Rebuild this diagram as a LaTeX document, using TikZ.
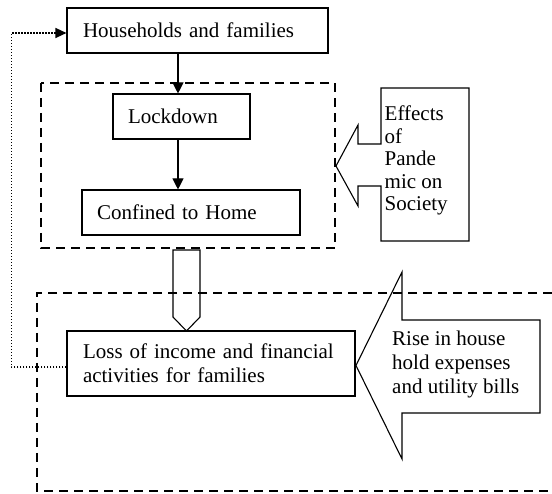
\documentclass[tikz,border=0pt]{standalone}
\usepackage{fontspec}
\setmainfont{Liberation Serif}
\usetikzlibrary{arrows.meta}
\begin{document}
\begin{tikzpicture}[x=1pt,y=-1pt,
  box/.style={draw, line width=1.1pt, inner ysep=0pt, align=left,
    font=\fontsize{21}{24}\selectfont},
  txt/.style={inner sep=0pt, align=left, anchor=north west},
  dbox/.style={line width=1.3pt, dash pattern=on 9pt off 6pt},
  outline/.style={line width=1.1pt, line join=miter},
  solidarrow/.style={line width=1.1pt, -{Triangle[length=11pt,width=11pt]}},
  dotarrow/.style={line width=1.3pt, dash pattern=on 1.3pt off 1.7pt,
    -{Triangle[length=11pt,width=10pt]}}]
\useasboundingbox (0,0) rectangle (552,494);

% dashed groups
\draw[dbox] (41,83) rectangle (335,248);
\draw[dbox] (552,293) -- (37,293) -- (37,491) -- (552,491);

% boxes
\node[box, minimum width=261pt, minimum height=45pt, text width=229pt, inner xsep=16pt]
  (house) at (197.5,30.5) {Households and families};
\node[box, minimum width=137pt, minimum height=45pt, text width=107pt, inner xsep=15pt]
  (lock) at (181.5,116.5) {Lockdown};
\node[box, minimum width=218pt, minimum height=45pt, text width=188pt, inner xsep=15pt]
  (home) at (191,212.5) {Confined to Home};
\node[box, minimum width=288pt, minimum height=65pt, text width=256pt, inner xsep=16pt]
  (loss) at (211,363.5) {Loss of income and financial\\activities for families};

% connectors
\draw[solidarrow] ([xshift=-3.5pt]lock.north |- house.south) -- ([xshift=-3.5pt]lock.north);
\draw[solidarrow] ([xshift=-3.5pt]lock.south) -- ([xshift=-3.5pt]lock.south |- home.north);
\draw[dotarrow] ([yshift=-3.5pt]loss.west) -- ++(-55pt,0) |- ([yshift=-2.5pt]house.west);

% block arrow down
\draw[outline] (173,250) -- (173,317) -- (186.5,331) -- (200,317) -- (200,250) -- cycle;

% Effects callout
\draw[outline] (336,166) -- (358,125) -- (358,144) -- (381,144) -- (381,88) -- (469,88)
  -- (469,241) -- (381,241) -- (381,186) -- (358,186) -- (358,206) -- cycle;
\node[txt, font=\fontsize{21}{22.5}\selectfont] (effects) at (384.5,106)
  {Effects\\of\\Pande\\mic on\\Society};

% Rise callout
\draw[outline] (356,365.5) -- (402,272) -- (402,320) -- (540,320) -- (540,413)
  -- (402,413) -- (402,459) -- cycle;
\node[txt, font=\fontsize{21}{24}\selectfont] (rise) at (392,331)
  {Rise in house\\hold expenses\\and utility bills};
\end{tikzpicture}
\end{document}
